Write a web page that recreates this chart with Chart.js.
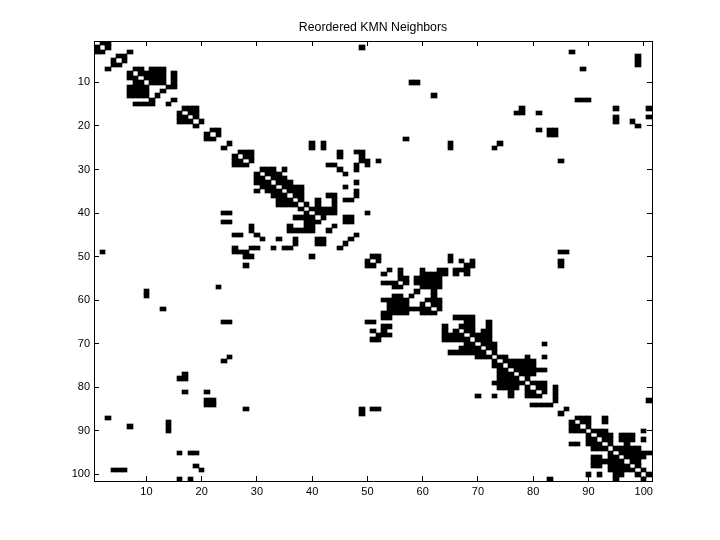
<!DOCTYPE html>
<html>
<head>
<meta charset="utf-8">
<style>html,body{margin:0;padding:0;background:#fff}canvas{display:block}</style>
<script src="https://cdn.jsdelivr.net/npm/chart.js@4"></script>
</head>
<body>
<canvas id="c" width="720" height="540"></canvas>
<script>
const chartTitle = "Reordered KMN Neighbors";
const xTickValues = [10,20,30,40,50,60,70,80,90,100];
const yTickValues = [10,20,30,40,50,60,70,80,90,100];
// neighbors[i] = columns that are filled in row i+1
const neighbors = [
/*1*/[2,3],[1,3,49],[1,2,7,87],[5,6,99],[4,6,99],[4,5,99],[3,8,9,11,12,13,89],[7,9,10,11,12,13,15],[7,8,10,11,12,13,15],[8,9,11,12,13,15,58,59],
/*11*/[7,8,9,10,14,15],[7,8,9,10,13],[7,8,9,10,12,62],[11,15,88,89,90],[8,9,10,11,14],[17,18,19,78,95,101],[16,18,19,77,78,81],[16,17,19,95,101],[16,17,18,20,95,98],[19,99],
/*21*/[22,23,81,83,84],[21,23,83,84],[21,22,57],[25,40,42,65,74],[24,40,42,65,73],[27,28,29,45,48,49],[26,28,29,45,49],[26,27,29,49,50,52,85],[26,27,28,43,44,48,50],[31,32,33,35,45,48],
/*31*/[30,32,33,34,46],[30,31,33,34,35],[30,31,32,34,35,36,48],[31,32,33,35,36,37,38,46],[30,32,33,34,36,37,38,48],[33,34,35,37,38,43,44,48],[34,35,36,38,41,44,46,47],[34,35,36,37,39,41,44],[38,40,41,42,43,44],[24,25,39,41,42,43,44,50],
/*41*/[37,38,39,40,42,46,47],[24,25,39,40,41,46,47],[29,36,39,40,44],[29,36,37,38,39,40,43],[26,27,30,48],[31,34,37,41,42,47],[37,41,42,46],[26,29,30,33,35,36,45],[2,26,27,28,85,86],[28,29,40,51,52,65],
/*51*/[50,52,65,67,69,85],[28,50,51,68,69,85],[54,56,60,63,64,66,67,68],[53,56,60,61,62,63,64,66,68],[56,57,59,60,61,62,63],[53,54,55,57,59,60,61,62,63],[23,55,56,60,61,62,63],[10,59,62],[10,55,56,58,62],[53,54,55,56,57,61,62,63],
/*61*/[54,55,56,57,60,62,63],[13,54,55,56,57,58,59,60,61,63],[53,54,55,56,57,60,61,62],[53,54,66,67,68,69],[24,25,50,51,68,69,72],[53,54,64,67,68,69,72],[51,53,64,66,68,69,71,72],[52,53,54,64,65,66,67,69,70,71,72],[51,52,64,65,66,67,68,70,71,72],[68,69,71,72,73,82],
/*71*/[67,68,69,70,72,73],[65,66,67,68,69,70,71,73],[25,70,71,72,74,75,79,82],[24,73,75,76,77,78,79,80],[73,74,76,77,78,79,80],[74,75,77,78,79,80,81,82],[17,74,75,76,78,79,80],[16,17,74,75,76,77,79],[73,74,75,76,77,78,80,81,82],[74,75,76,77,79,81,82,84],
/*81*/[17,21,76,79,80,82,84],[70,73,76,79,80,81,84],[21,22,84,101],[21,22,80,81,82,83],[28,49,51,52,86],[49,85],[3,88,89,90,93],[14,87,89,90,93],[7,14,87,88,90],[14,87,88,89,91,92,93,100],
/*91*/[90,92,93,94,96,97,98],[90,91,93,94,96,97,98,100],[87,88,90,91,92,94,97],[91,92,93,95,96,97,98,99],[16,18,19,94,96,97,98,99,100,101],[91,92,94,95,97,98,99,100],[91,92,93,94,95,96,98,99],[19,91,92,94,95,96,97,99],[4,5,6,20,94,95,96,97,98,100],[90,92,95,96,99,101],
/*101*/[16,18,83,95,100]
];

const cells = [];
neighbors.forEach((cols, i) => cols.forEach(c => cells.push({x: c, y: [i + 0.5, i + 1.5]})));

const snapPlugin = {
  id: 'snap',
  afterDatasetsUpdate(chart) {
    chart.getDatasetMeta(0).data.forEach(el => {
      const l = Math.round(el.x - el.width / 2), r = Math.round(el.x + el.width / 2);
      const t = Math.round(Math.min(el.y, el.base)), b = Math.round(Math.max(el.y, el.base));
      el.x = (l + r) / 2; el.width = r - l;
      el.y = t; el.base = b; el.height = b - t;
    });
  }
};
const axisFont = {family: "'Liberation Sans'", size: 11};
const setTicks = vals => scale => { scale.ticks = vals.map(v => ({value: v})); };
const frame = {color: '#000', width: 1};
const gridCfg = {offset: false, drawOnChartArea: false, drawTicks: true, tickLength: -5, color: '#000', lineWidth: 1};

new Chart(document.getElementById('c'), {
  type: 'bar',
  plugins: [snapPlugin],
  data: {datasets: [{data: cells, backgroundColor: '#000', borderWidth: 0, barThickness: 5.525, xAxisID: 'x', yAxisID: 'y'}]},
  options: {
    responsive: false, animation: false,
    layout: {padding: 0},
    plugins: {legend: {display: false}, tooltip: {enabled: false}, title: {display: false}},
    scales: {
      x: {type: 'linear', position: 'bottom', min: 0.5, max: 101.5, offset: false,
          grid: gridCfg, border: frame, afterBuildTicks: setTicks(xTickValues),
          ticks: {color: '#000', font: axisFont, padding: 9, autoSkip: false, maxRotation: 0, callback: v => String(v)},
          afterFit(s) { s.height = 59; }},
      x2: {type: 'linear', axis: 'x', position: 'top', min: 0.5, max: 101.5, offset: false,
          grid: gridCfg, border: frame, afterBuildTicks: setTicks(xTickValues),
          title: {display: true, text: chartTitle, color: '#000', padding: {top: 21, bottom: 6},
                  font: {family: "'Liberation Sans'", size: 12.3, weight: 'normal', lineHeight: 1.13}},
          ticks: {display: false}, afterFit(s) { s.height = 41; }},
      y: {type: 'linear', position: 'left', reverse: true, min: 0.5, max: 101.5,
          grid: gridCfg, border: frame, afterBuildTicks: setTicks(yTickValues),
          ticks: {color: '#000', font: axisFont, padding: 9, autoSkip: false, callback: v => String(v)},
          afterFit(s) { s.width = 94; }},
      y2: {type: 'linear', axis: 'y', position: 'right', reverse: true, min: 0.5, max: 101.5,
          grid: gridCfg, border: frame, afterBuildTicks: setTicks(yTickValues),
          ticks: {display: false}, afterFit(s) { s.width = 68; }}
    }
  }
});
</script>
</body>
</html>
